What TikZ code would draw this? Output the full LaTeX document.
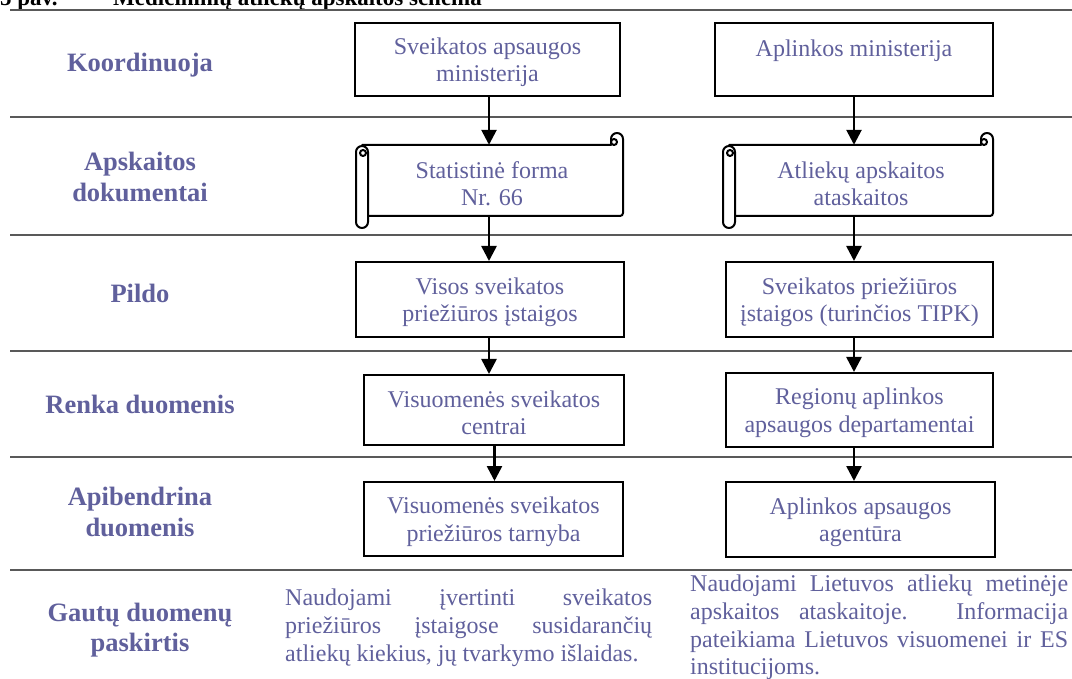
\documentclass[tikz,border=0pt]{standalone}
\usepackage{fontspec}
\setmainfont{Liberation Serif}
\usetikzlibrary{arrows.meta,calc}
\definecolor{txt}{RGB}{96,96,156}
\definecolor{sepc}{RGB}{89,89,89}
\newcommand{\tstrut}{\rule{0pt}{22pt}}
\tikzset{
 sepline/.style={draw=sepc, line width=2.5pt},
 box/.style={draw=black, line width=2pt, fill=white, inner sep=0pt, align=center, text=txt, font=\fontsize{24}{27.6}\selectfont},
 scrolltext/.style={inner sep=0pt, align=center, text=txt, font=\fontsize{24}{27.6}\selectfont},
 lab/.style={text=txt, align=center, inner sep=0pt, font=\fontsize{26.5}{30.5}\selectfont\bfseries},
 arr/.style={line width=2.6pt, -{Triangle[length=15pt,width=15pt]}},
 scrollst/.style={draw=black, line width=2pt, fill=white, line join=round},
 para/.style={text=txt, align=left, inner sep=0pt, font=\fontsize{24}{27.6}\selectfont},
 capt/.style={anchor=base west, inner sep=0pt, text=black, font=\fontsize{23}{27}\selectfont\bfseries},
}
\newcommand{\myhscroll}[4]{% left right top bottom (px)
 \filldraw[scrollst] ({#1+6},{#3+12}) -- ({#2-12},{#3+12}) -- ({#2-12},{#3+6})
   arc[start angle=180,end angle=0,radius=6pt] -- ({#2},{#4-15})
   arc[start angle=0,end angle=-90,radius=3pt] -- ({#1+6},{#4-12}) -- cycle;
 \draw[scrollst] ({#2-9},{#3+9}) circle[radius=3pt];
 \filldraw[scrollst] (#1,{#3+19}) -- (#1,{#4-6})
   arc[start angle=180,end angle=360,radius=6pt] -- ({#1+12},{#3+19})
   arc[start angle=0,end angle=180,radius=6pt] -- cycle;
 \draw[scrollst] ({#1+7},{#3+20}) circle[radius=3pt];
}
\begin{document}
\begin{tikzpicture}[x=1pt,y=-1pt]
\useasboundingbox (0,0) rectangle (1072,679);

% caption
\node[capt] (cap1) at (0,6) {5 pav.};
\node[capt] (cap2) at (113,6) {Medicininių atliekų apskaitos schema};

% separators
\foreach \yy in {10,117,235,351,457,570}
  \draw[sepline] (10,\yy) -- (1072,\yy);

% row labels
\node[lab] (r1) at (140,65) {Koordinuoja};
\node[lab] (r2) at (140,177) {Apskaitos\\dokumentai};
\node[lab] (r3) at (140,293) {Pildo};
\node[lab] (r4) at (140,404) {Renka duomenis};
\node[lab] (r5) at (140,512) {Apibendrina\\duomenis};
\node[lab] (r6) at (140,630) {Gautų duomenų\\paskirtis};

% left column
\node[box, minimum width=265pt, minimum height=73pt] (L1) at (487.5,59.5) {\tstrut Sveikatos apsaugos\\ministerija};
\myhscroll{356}{623}{133}{228}
\node[scrolltext, minimum width=255pt, minimum height=72pt] (L2) at (492,181) {\tstrut Statistinė forma\\Nr. 66};
\node[box, minimum width=268pt, minimum height=75pt] (L3) at (490,299.5) {\tstrut Visos sveikatos\\priežiūros įstaigos};
\node[box, minimum width=260pt, minimum height=70pt] (L4) at (494,410) {\tstrut Visuomenės sveikatos\\centrai};
\node[box, minimum width=259pt, minimum height=74pt] (L5) at (493.5,519) {\tstrut Visuomenės sveikatos\\priežiūros tarnyba};

% right column
\node[box, minimum width=278pt, minimum height=73pt] (R1) at (854,59.5) {\tstrut Aplinkos ministerija\\\mbox{}};
\myhscroll{723}{993}{133}{228}
\node[scrolltext, minimum width=258pt, minimum height=72pt] (R2) at (861,181) {\tstrut Atliekų apskaitos\\ataskaitos};
\node[box, minimum width=267pt, minimum height=75pt] (R3) at (859.5,299.5) {\tstrut Sveikatos priežiūros\\įstaigos (turinčios TIPK)};
\node[box, minimum width=267pt, minimum height=74pt] (R4) at (859.5,410) {\tstrut Regionų aplinkos\\apsaugos departamentai};
\node[box, minimum width=269pt, minimum height=75pt] (R5) at (860.5,519.5) {\tstrut Aplinkos apsaugos\\agentūra};

% arrows
\coordinate (lxa) at (489,0);
\coordinate (lxb) at (494.5,0);
\coordinate (rx) at (854,0);
\draw[arr] (L1.south -| lxa) -- (L2.north -| lxa);
\draw[arr] (L2.south -| lxa) -- (L3.north -| lxa);
\draw[arr] (L3.south -| lxa) -- (L4.north -| lxa);
\draw[arr] (L4.south -| lxb) -- (L5.north -| lxb);
\draw[arr] (R1.south -| rx) -- (R2.north -| rx);
\draw[arr] (R2.south -| rx) -- (R3.north -| rx);
\draw[arr] (R3.south -| rx) -- (R4.north -| rx);
\draw[arr] (R4.south -| rx) -- (R5.north -| rx);

% purpose paragraphs
\node[para, anchor=north west] (P1) at (285,589) {\makebox[367pt][s]{Naudojami įvertinti sveikatos}\\\makebox[367pt][s]{priežiūros įstaigose susidarančių}\\atliekų kiekius, jų tvarkymo išlaidas.};
\node[para, anchor=north west] (P2) at (690,575) {\makebox[378pt][s]{Naudojami Lietuvos atliekų metinėje}\\\makebox[378pt][s]{apskaitos ataskaitoje. Informacija}\\\makebox[378pt][s]{pateikiama Lietuvos visuomenei ir ES}\\institucijoms.};
\end{tikzpicture}
\end{document}
